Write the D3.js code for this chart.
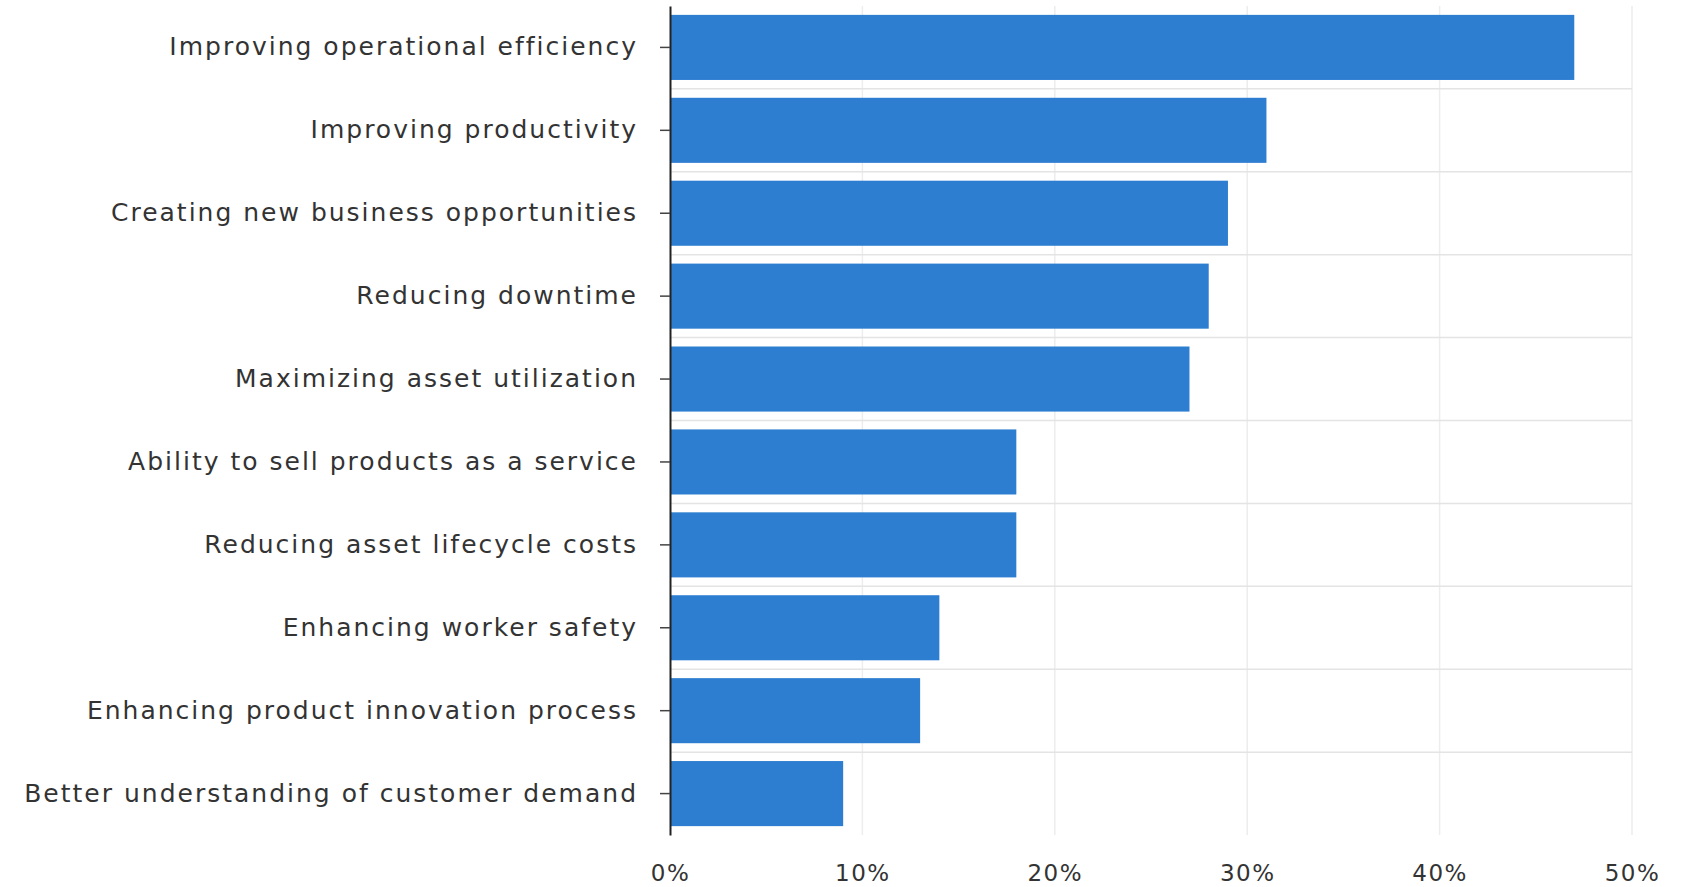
<!DOCTYPE html>
<html>
<head>
<meta charset="utf-8">
<script src="https://cdn.jsdelivr.net/npm/d3@7"></script>
<style>
  body { margin: 0; background: #fff; }
  svg { display: block; }
  text { font-family: "DejaVu Sans", Verdana, sans-serif; fill: #333; }
</style>
</head>
<body>
<svg width="1688" height="887"></svg>
<script>
var categories = [
  'Improving operational efficiency',
  'Improving productivity',
  'Creating new business opportunities',
  'Reducing downtime',
  'Maximizing asset utilization',
  'Ability to sell products as a service',
  'Reducing asset lifecycle costs',
  'Enhancing worker safety',
  'Enhancing product innovation process',
  'Better understanding of customer demand'
];
var values = [47, 31, 29, 28, 27, 18, 18, 14, 13, 9];
var xTicks = [0, 10, 20, 30, 40, 50];

var svg = d3.select('svg');

var x = d3.scaleLinear().domain([0, 50]).range([670, 1632]);
var y = d3.scaleBand().domain(categories).range([6, 835]).paddingInner(0.215).paddingOuter(0.107);

// faint grid
svg.append('g').selectAll('line.vgrid').data(xTicks.slice(1))
  .enter().append('line')
  .attr('x1', function(d) { return x(d); })
  .attr('x2', function(d) { return x(d); })
  .attr('y1', 6).attr('y2', 835)
  .attr('stroke', '#ededed').attr('stroke-width', 1.5);

svg.append('g').selectAll('line.hgrid').data(categories.slice(1))
  .enter().append('line')
  .attr('x1', x(0)).attr('x2', x(50))
  .attr('y1', function(d) { return y(d) - y.step() * y.paddingInner() / 2; })
  .attr('y2', function(d) { return y(d) - y.step() * y.paddingInner() / 2; })
  .attr('stroke', '#e4e4e4').attr('stroke-width', 1.5);

// bars
svg.append('g').selectAll('rect.bar').data(values)
  .enter().append('rect')
  .classed('bar', true)
  .attr('x', x(0))
  .attr('y', function(d, i) { return y(categories[i]); })
  .attr('width', function(d) { return x(d) - x(0); })
  .attr('height', y.bandwidth())
  .attr('fill', '#2d7ed1');

// y axis
var yAxis = svg.append('g')
  .attr('transform', 'translate(' + x(0) + ',0)')
  .call(d3.axisLeft(y).tickSize(10).tickPadding(22).tickSizeOuter(0));
yAxis.select('.domain').attr('stroke', '#222').attr('stroke-width', 2);
yAxis.selectAll('.tick line').attr('stroke', '#444').attr('stroke-width', 1.5);
yAxis.selectAll('.tick text').attr('font-size', 25).attr('letter-spacing', 2).attr('fill', '#3a3a3a');

// x axis labels (no baseline)
var xAxis = svg.append('g')
  .attr('transform', 'translate(0,857)')
  .call(d3.axisBottom(x).tickValues(xTicks).tickSize(0).tickPadding(8)
    .tickFormat(function(d) { return d + '%'; }));
xAxis.select('.domain').remove();
xAxis.selectAll('.tick text').attr('font-size', 23).attr('letter-spacing', 1.5).attr('fill', '#444');
</script>
</body>
</html>
